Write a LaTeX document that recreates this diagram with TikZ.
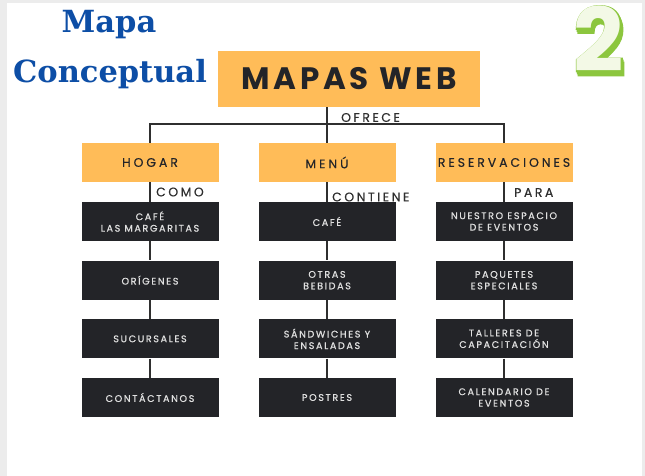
\documentclass[tikz,border=0pt]{standalone}
\usepackage{fontspec}
\usepackage{tikz}
\usetikzlibrary{positioning}
\newfontfamily\webfont[LetterSpace=12]{Poppins}
\newfontfamily\catfont[LetterSpace=24,FakeBold=0.4]{Poppins}
\newfontfamily\itemfont[LetterSpace=17,FakeBold=0.7]{Poppins}
\newfontfamily\linkfont[LetterSpace=20,FakeBold=0.4]{Poppins}
\newfontfamily\twofont{Poppins}
\newfontfamily\twoline[FakeBold=3]{Poppins}
\newfontfamily\headfont{DejaVu Serif}
\definecolor{naranja}{HTML}{FFBC58}
\definecolor{oscuro}{HTML}{232428}
\definecolor{linea}{HTML}{2F2F2F}
\definecolor{azul}{HTML}{0D4EA6}
\definecolor{verde}{HTML}{8CC63E}
\definecolor{verdeclaro}{HTML}{F3F9E6}
\definecolor{marco}{HTML}{ECECEC}
\newcommand{\sombra}[2]{\rlap{\color{verde}\twoline\hspace{#1}\raisebox{#2}{2}}}
\tikzset{%
    webbox/.style={fill=naranja, minimum width=262, minimum height=56, inner sep=0,
        font=\webfont\bfseries\fontsize{31}{31}\selectfont, text=oscuro},
    catbox/.style={fill=naranja, minimum width=137, minimum height=39, inner sep=0,
        font=\catfont\fontsize{12.4}{12.4}\selectfont, text=oscuro},
    itembox/.style={fill=oscuro, minimum width=137, minimum height=39, inner sep=0,
        align=center, font=\itemfont\fontsize{9.6}{11.5}\selectfont, text=white!88!black},
    enlace/.style={anchor=west, inner sep=0, font=\linkfont\fontsize{12.5}{12.5}\selectfont, text=linea},
    conector/.style={draw=linea, line width=1.8pt},
    titulo/.style={anchor=base, inner sep=0, font=\headfont\bfseries\fontsize{30.5}{30.5}\selectfont, text=azul},
    dos/.style={anchor=base, inner sep=0, font=\twofont\bfseries\fontsize{88}{88}\selectfont, text=verdeclaro}
}
\begin{document}
\begin{tikzpicture}[x=1pt,y=-1pt]
    \useasboundingbox (0,0) rectangle (645,476);
    \fill[marco] (0,0) rectangle (645,476);
    \fill[white] (7,3) rectangle (642,476);
%   title and number
    \node[titulo] (mapa) at (109,33) {Mapa};
    \node[titulo] (conceptual) at (110,83) {Conceptual};
    \node[dos] (num) at (599,72) {\sombra{1.6pt}{-4pt}\sombra{0.8pt}{-2pt}\sombra{0pt}{0pt}2};
%   main concept
    \node[webbox] (web) at (349,79) {MAPAS WEB};
    \node[catbox] (hogar) at (150,162.5) {HOGAR};
    \node[catbox] (menu) at (327,162.5) {MENÚ};
    \node[catbox] (reserv) at (504,162.5) {RESERVACIONES};
    \coordinate (bar) at (327,124);
    \draw[conector] (web.south -| menu.north) -- (menu.north);
    \draw[conector] (hogar.north) |- (bar) -| (reserv.north);
    \node[enlace] (ofrece) at (341,117.5) {OFRECE};
%   items
    \foreach \txt [count=\i] in {{CAFÉ\\LAS MARGARITAS},ORÍGENES,SUCURSALES,CONTÁCTANOS}
        \node[itembox] (h\i) at (150,{221.5+58.67*(\i-1)}) {\txt};
    \foreach \txt [count=\i] in {CAFÉ,{OTRAS\\BEBIDAS},{SÁNDWICHES Y\\ENSALADAS},POSTRES}
        \node[itembox] (m\i) at (327,{221.5+58.67*(\i-1)}) {\txt};
    \foreach \txt [count=\i] in {{NUESTRO ESPACIO\\DE EVENTOS},{PAQUETES\\ESPECIALES},{TALLERES DE\\CAPACITACIÓN},{CALENDARIO DE\\EVENTOS}}
        \node[itembox] (r\i) at (504,{221.5+58.67*(\i-1)}) {\txt};
    \draw[conector] (hogar.south) -- (h1.north);
    \draw[conector] (menu.south) -- (m1.north);
    \draw[conector] (reserv.south) -- (r1.north);
    \foreach \c in {h,m,r}
      \foreach \p/\q in {1/2,2/3,3/4}
        \draw[conector] (\c\p.south) -- (\c\q.north);
    \node[enlace] (como) at (156,192) {COMO};
    \node[enlace] (contiene) at (332,197) {CONTIENE};
    \node[enlace] (para) at (514,192.5) {PARA};
\end{tikzpicture}
\end{document}
